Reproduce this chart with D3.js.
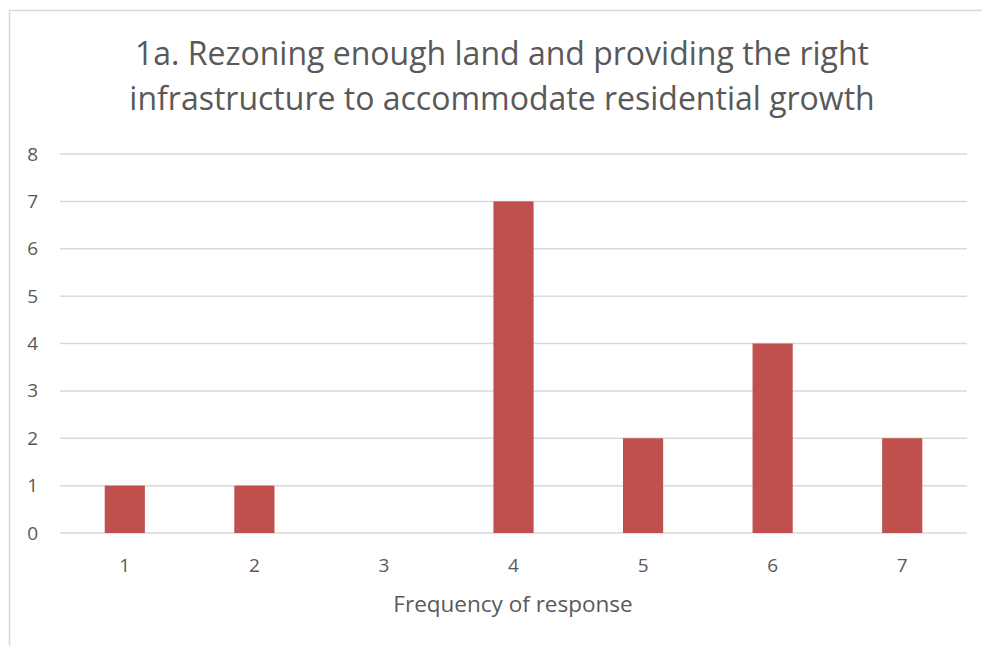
<!DOCTYPE html>
<html>
<head>
<meta charset="utf-8">
<script src="https://cdn.jsdelivr.net/npm/d3@7"></script>
<style>
  body { margin: 0; background: #fff; }
  text { font-family: "Open Sans", Lato, sans-serif; fill: #595959; }
</style>
</head>
<body>
<script>
// chart values
var categories = ["1", "2", "3", "4", "5", "6", "7"];
var counts = [1, 1, 0, 7, 2, 4, 2];
var yTicks = [0, 1, 2, 3, 4, 5, 6, 7, 8];
var titleLines = ["1a. Rezoning enough land and providing the right",
                  "infrastructure to accommodate residential growth"];
var xTitle = "Frequency of response";

var w = 982, h = 646;
var plotLeft = 60, plotRight = 967, plotTop = 154, plotBottom = 533;

var svg = d3.select("body").append("svg")
    .attr("width", w)
    .attr("height", h);

// chart frame (clipped at right and bottom like the screenshot)
svg.append("path")
    .attr("d", "M9.5," + h + "V10.5H" + w)
    .attr("fill", "none")
    .attr("stroke", "#d9d9d9")
    .attr("stroke-width", 1.5);

var x = d3.scaleBand()
    .domain(categories)
    .range([plotLeft, plotRight])
    .paddingInner(0.69)
    .paddingOuter(0.345);

var y = d3.scaleLinear()
    .domain([0, 8])
    .range([plotBottom, plotTop]);

// gridlines
svg.append("g")
    .selectAll("line")
    .data(yTicks)
    .join("line")
    .attr("x1", plotLeft)
    .attr("x2", plotRight)
    .attr("y1", function(d) { return y(d); })
    .attr("y2", function(d) { return y(d); })
    .attr("stroke", "#d9d9d9")
    .attr("stroke-width", 1.5);

// y labels
var yAxis = d3.axisLeft(y).tickValues(yTicks).tickSize(0).tickPadding(0);
var gy = svg.append("g")
    .attr("transform", "translate(38,0)")
    .call(yAxis);
gy.select(".domain").remove();
gy.selectAll("text")
    .attr("font-size", 19)
    .attr("font-family", null)
    .attr("fill", "#595959");

// bars
svg.append("g")
    .selectAll("rect")
    .data(counts)
    .join("rect")
    .attr("x", function(d, i) { return x(categories[i]); })
    .attr("width", x.bandwidth())
    .attr("y", function(d) { return y(d); })
    .attr("height", function(d) { return y(0) - y(d); })
    .attr("fill", "#c0504d");

// x labels
var xAxis = d3.axisBottom(x).tickSize(0).tickPadding(0);
var gx = svg.append("g")
    .attr("transform", "translate(0,572)")
    .call(xAxis);
gx.select(".domain").remove();
gx.selectAll("text")
    .attr("font-size", 19)
    .attr("font-family", null)
    .attr("fill", "#595959")
    .attr("dy", 0);

// axis title
svg.append("text")
    .attr("x", 513)
    .attr("y", 612)
    .attr("text-anchor", "middle")
    .attr("font-size", 22.5)
    .text(xTitle);

// chart title
svg.append("g")
    .selectAll("text")
    .data(titleLines)
    .join("text")
    .attr("x", 502)
    .attr("y", function(d, i) { return 65 + i * 45; })
    .attr("text-anchor", "middle")
    .attr("font-size", 32)
    .text(function(d) { return d; });
</script>
</body>
</html>
